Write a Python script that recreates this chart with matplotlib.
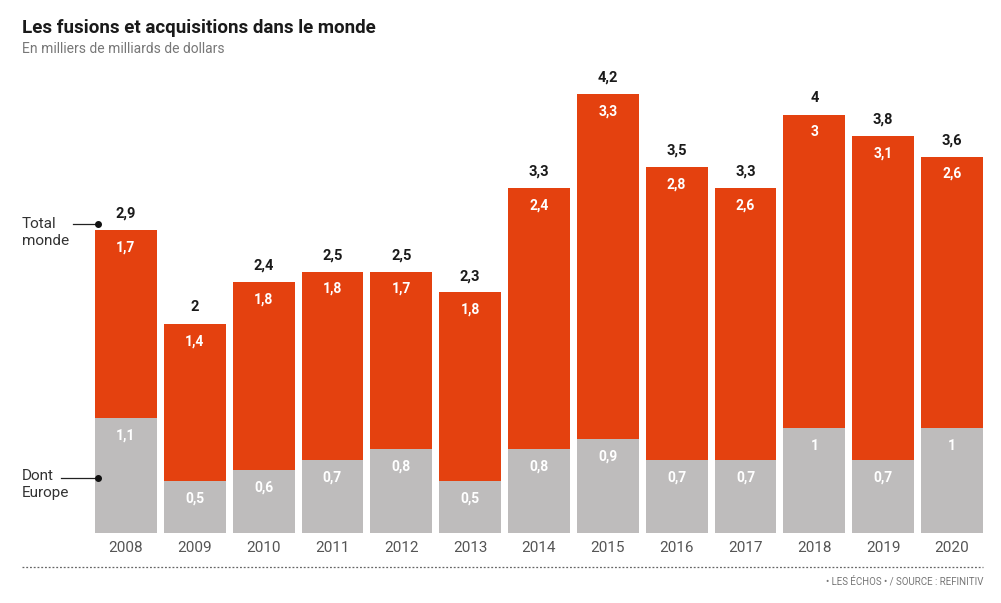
import matplotlib.pyplot as plt

years = ['2008', '2009', '2010', '2011', '2012', '2013', '2014',
         '2015', '2016', '2017', '2018', '2019', '2020']
total = [2.9, 2, 2.4, 2.5, 2.5, 2.3, 3.3, 4.2, 3.5, 3.3, 4, 3.8, 3.6]
europe = [1.1, 0.5, 0.6, 0.7, 0.8, 0.5, 0.8, 0.9, 0.7, 0.7, 1, 0.7, 1]
rest = [1.7, 1.4, 1.8, 1.8, 1.7, 1.8, 2.4, 3.3, 2.8, 2.6, 3, 3.1, 2.6]

orange = '#E4410F'
grey = '#BEBCBC'
W, H = 1001, 603


def fmt(v):
    s = ('%g' % v).replace('.', ',')
    return s


fig = plt.figure(figsize=(W / 100, H / 100), dpi=100)
plt.rcParams['font.family'] = ['Roboto', 'DejaVu Sans']

# axes placed in pixel coordinates
left, right, bottom, top = 95, 983, 533, 75
ax = fig.add_axes([left / W, 1 - bottom / H, (right - left) / W, (bottom - top) / H])
ax.set_xlim(-0.45, 12.45)
ax.set_ylim(0, 4.38)
ax.axis('off')

x = range(len(years))
ax.bar(x, total, width=0.9, color=orange, zorder=0)
ax.bar(x, europe, width=0.9, color=grey, zorder=1)

for i in x:
    ax.text(i, total[i] + 0.09, fmt(total[i]), ha='center', va='bottom',
            fontsize=10.5, fontweight='bold', color='#1a1a1a')
    ax.text(i, total[i] - 0.1, fmt(rest[i]), ha='center', va='top',
            fontsize=10, fontweight='bold', color='white', zorder=3)
    ax.text(i, europe[i] - 0.1, fmt(europe[i]), ha='center', va='top',
            fontsize=10, fontweight='bold', color='white', zorder=3)
    ax.text(i, -0.08, years[i], ha='center', va='top', fontsize=11,
            color='#555555')

# annotations on the left
fig.text(22 / W, 1 - 217 / H, 'Total\nmonde', ha='left', va='top',
         fontsize=11, color='#333333', linespacing=1.25)
fig.text(22 / W, 1 - 469 / H, 'Dont\nEurope', ha='left', va='top',
         fontsize=11, color='#333333', linespacing=1.25)
fig.add_artist(plt.Line2D([73 / W, 98 / W], [1 - 224 / H, 1 - 224 / H],
                          color='#222222', lw=0.9))
fig.add_artist(plt.Line2D([98 / W], [1 - 224 / H], marker='o', ms=4,
                          color='#111111'))
fig.add_artist(plt.Line2D([61 / W, 98 / W], [1 - 478 / H, 1 - 478 / H],
                          color='#222222', lw=0.9))
fig.add_artist(plt.Line2D([98 / W], [1 - 478 / H], marker='o', ms=4,
                          color='#111111'))

# titles
fig.text(22 / W, 1 - 28 / H, 'Les fusions et acquisitions dans le monde',
         ha='left', va='center', fontsize=13.5, fontweight='bold',
         color='#1a1a1a')
fig.text(22 / W, 1 - 49 / H, 'En milliers de milliards de dollars',
         ha='left', va='center', fontsize=10, color='#777777')

# footer
fig.add_artist(plt.Line2D([22 / W, 983 / W], [1 - 567 / H, 1 - 567 / H],
                          color='#666666', lw=0.9, ls=(0, (1.5, 1.5))))
fig.text(983 / W, 1 - 581 / H, '• LES ÉCHOS • / SOURCE : REFINITIV',
         ha='right', va='center', fontsize=7, color='#777777')

plt.savefig('out.png', dpi=100)
